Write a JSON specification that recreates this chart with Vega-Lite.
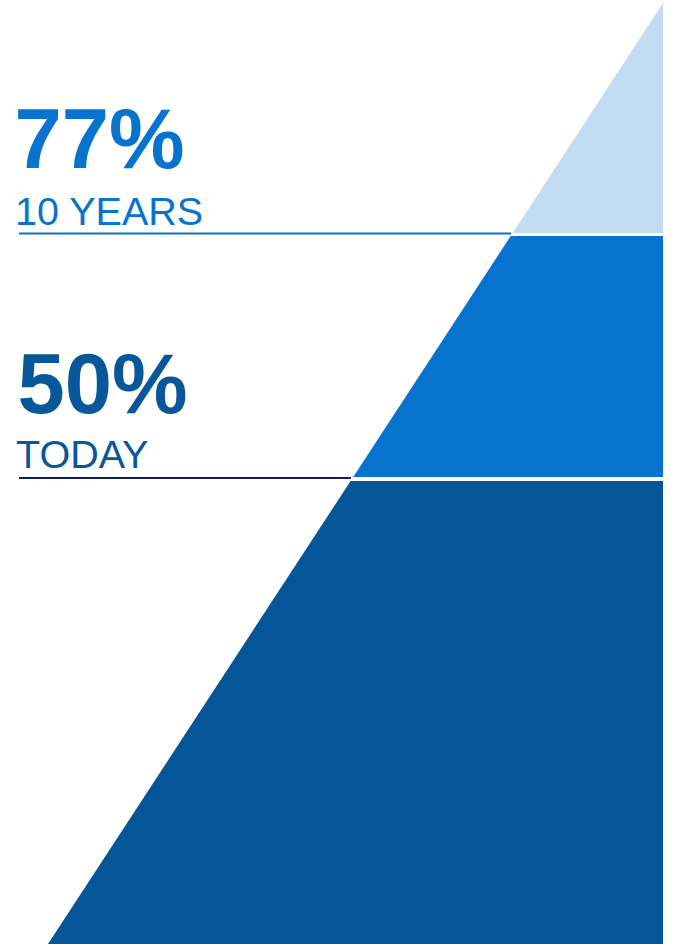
{
  "$schema": "https://vega.github.io/schema/vega-lite/v6.json",
  "width": 679,
  "height": 944,
  "padding": 0,
  "autosize": {"type": "none"},
  "background": "white",
  "config": {"view": {"stroke": null}},
  "datasets": {
    "bands": [
      {"band": "light", "y": 3, "xl": 663, "xr": 663},
      {"band": "light", "y": 233, "xl": 512.7, "xr": 663},
      {"band": "mid", "y": 236, "xl": 510.7, "xr": 663},
      {"band": "mid", "y": 477, "xl": 353.2, "xr": 663},
      {"band": "dark", "y": 481, "xl": 350.6, "xr": 663},
      {"band": "dark", "y": 944, "xl": 48, "xr": 663}
    ],
    "rules": [
      {"period": "10 YEARS", "y": 233.5, "x1": 19, "x2": 511},
      {"period": "TODAY", "y": 478, "x1": 19, "x2": 351}
    ],
    "values": [
      {"period": "10 YEARS", "label": "77%", "x": 14.5, "y": 168},
      {"period": "TODAY", "label": "50%", "x": 17.5, "y": 413}
    ],
    "captions": [
      {"period": "10 YEARS", "label": "10 YEARS", "x": 15, "y": 225},
      {"period": "TODAY", "label": "TODAY", "x": 16, "y": 468}
    ]
  },
  "resolve": {"scale": {"color": "independent"}},
  "layer": [
    {
      "data": {"name": "bands"},
      "mark": {"type": "area", "orient": "horizontal", "interpolate": "linear"},
      "encoding": {
        "y": {"field": "y", "type": "quantitative", "scale": {"domain": [0, 944], "reverse": true, "zero": false, "nice": false}, "axis": null},
        "x": {"field": "xl", "type": "quantitative", "stack": null, "scale": {"domain": [0, 679], "zero": false, "nice": false}, "axis": null},
        "x2": {"field": "xr"},
        "color": {"field": "band", "type": "nominal", "scale": {"domain": ["light", "mid", "dark"], "range": ["#c3dcf2", "#0873cf", "#055699"]}, "legend": null}
      }
    },
    {
      "data": {"name": "rules"},
      "mark": {"type": "rule", "strokeWidth": 2},
      "encoding": {
        "y": {"field": "y", "type": "quantitative"},
        "x": {"field": "x1", "type": "quantitative"},
        "x2": {"field": "x2"},
        "color": {"field": "period", "type": "nominal", "scale": {"domain": ["10 YEARS", "TODAY"], "range": ["#0873cf", "#0d1f5c"]}, "legend": null}
      }
    },
    {
      "data": {"name": "values"},
      "mark": {"type": "text", "font": "Liberation Sans", "fontWeight": "bold", "fontSize": 85, "align": "left", "baseline": "alphabetic"},
      "encoding": {
        "y": {"field": "y", "type": "quantitative"},
        "x": {"field": "x", "type": "quantitative"},
        "text": {"field": "label"},
        "color": {"field": "period", "type": "nominal", "scale": {"domain": ["10 YEARS", "TODAY"], "range": ["#0873cf", "#07579a"]}, "legend": null}
      }
    },
    {
      "data": {"name": "captions"},
      "mark": {"type": "text", "font": "Liberation Sans", "fontSize": 39.5, "align": "left", "baseline": "alphabetic"},
      "encoding": {
        "y": {"field": "y", "type": "quantitative"},
        "x": {"field": "x", "type": "quantitative"},
        "text": {"field": "label"},
        "color": {"field": "period", "type": "nominal", "scale": {"domain": ["10 YEARS", "TODAY"], "range": ["#0873cf", "#07579a"]}, "legend": null}
      }
    }
  ]
}
